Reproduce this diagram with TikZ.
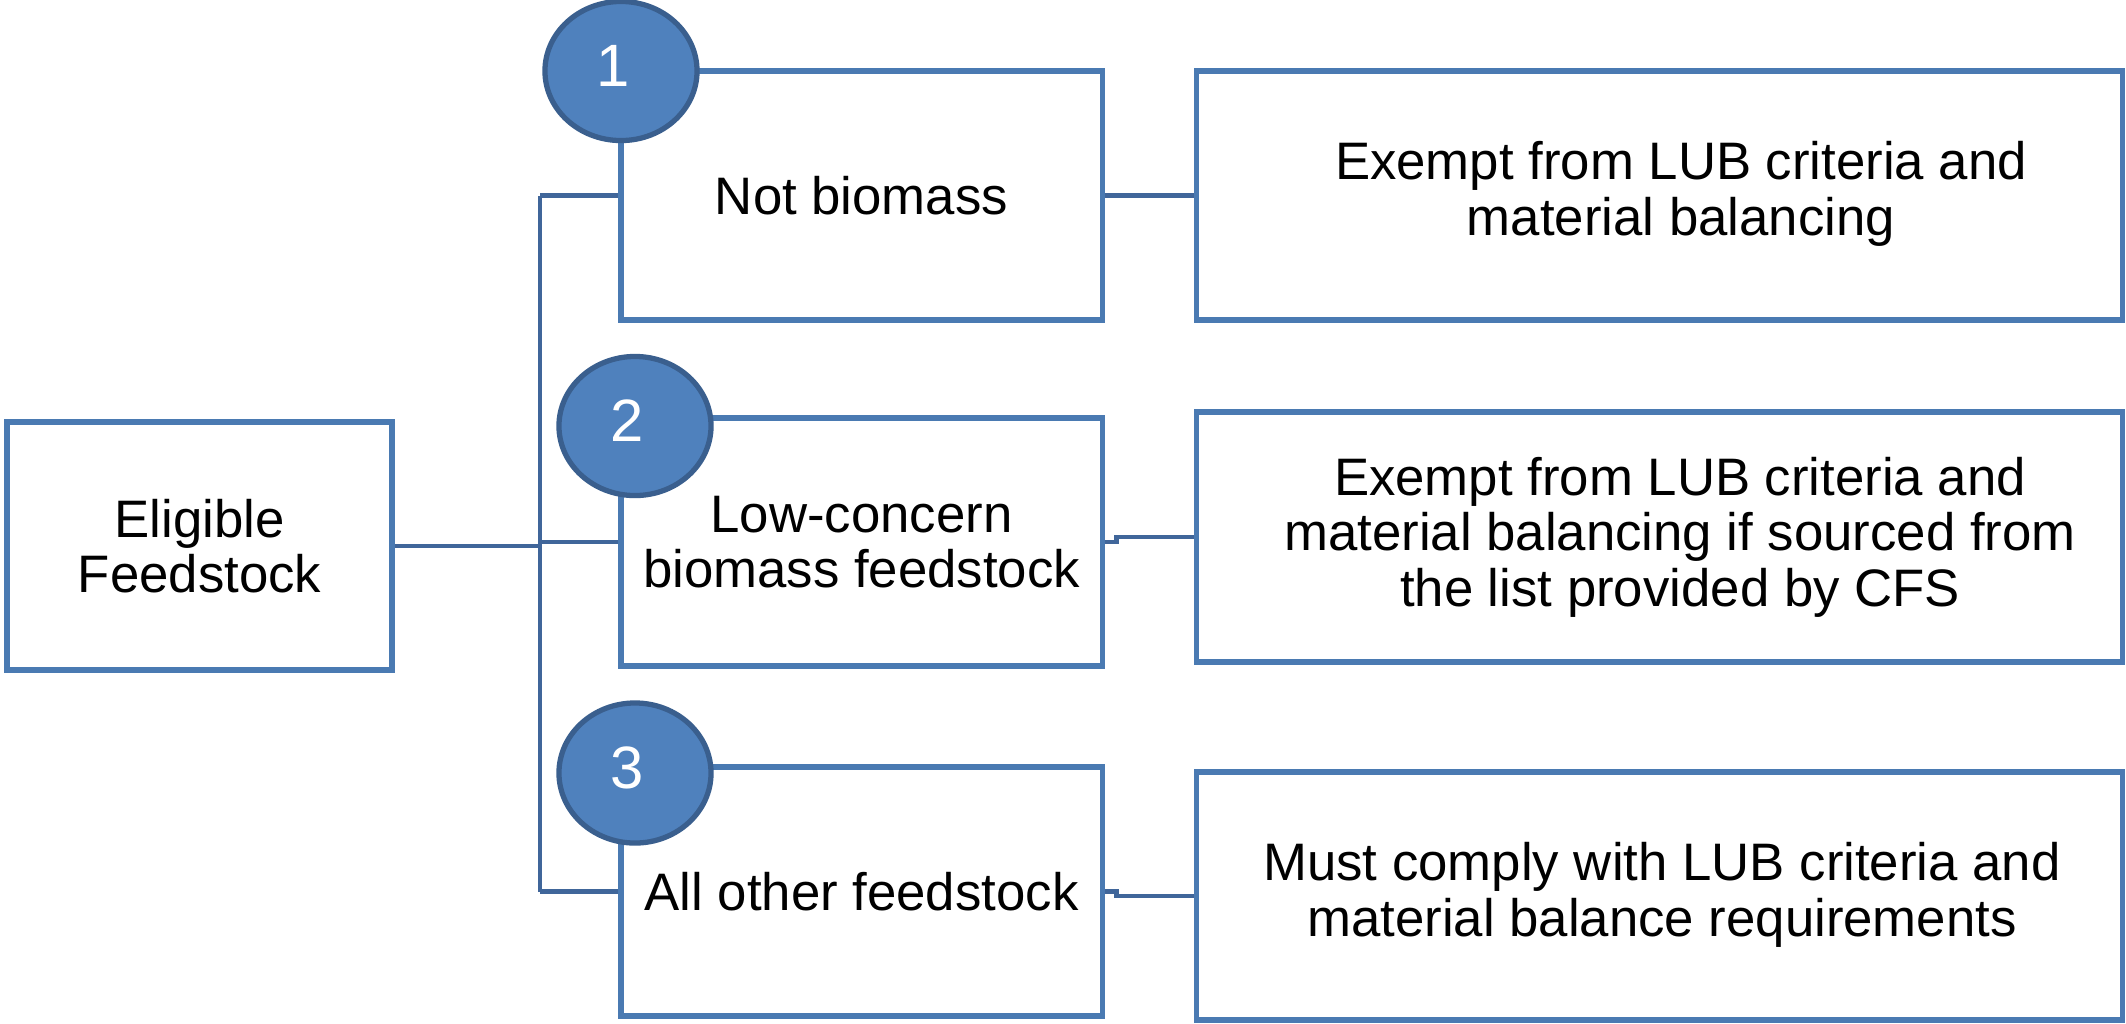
\documentclass[tikz,border=0pt]{standalone}
\usepackage{fontspec}
\setmainfont{Liberation Sans}
\usetikzlibrary{shapes.geometric}
\definecolor{boxblue}{RGB}{74,122,178}
\definecolor{linkblue}{RGB}{64,102,154}
\definecolor{discfill}{RGB}{79,129,189}
\definecolor{discline}{RGB}{58,95,142}
\tikzset{
  boxnode/.style={draw=boxblue, line width=1.5pt, fill=white, rectangle, inner sep=0pt,
    align=center, font=\fontsize{15}{15.8}\selectfont},
  link/.style={draw=linkblue, line width=1.4pt},
  disc/.style={ellipse, draw=discline, fill=discfill, line width=1.5pt, inner sep=0pt},
  numtext/.style={text=white, font=\fontsize{17}{17}\selectfont}
}
\begin{document}
\begin{tikzpicture}[x=0.01cm,y=-0.01cm]
\useasboundingbox (0,0) rectangle (2126,1023);
% left box
\node[boxnode, minimum width=3.85cm, minimum height=2.48cm] (elig) at (199.5,546) {Eligible\\Feedstock};
% middle boxes
\node[boxnode, minimum width=4.81cm, minimum height=2.49cm] (b1) at (861.5,195.5) {Not biomass};
\node[boxnode, minimum width=4.81cm, minimum height=2.48cm] (b2) at (861.5,542) {Low-concern\\biomass feedstock};
\node[boxnode, minimum width=4.81cm, minimum height=2.49cm] (b3) at (861.5,891.5) {All other feedstock};
% right boxes
\node[boxnode, minimum width=9.25cm, minimum height=2.49cm] (r1) at (1659.5,195.5) {};
\node[boxnode, minimum width=9.25cm, minimum height=2.50cm] (r2) at (1659.5,537) {};
\node[boxnode, minimum width=9.25cm, minimum height=2.48cm] (r3) at (1659.5,896) {};
\node[align=center, font=\fontsize{15}{15.8}\selectfont] (t1) at (1681,194) {Exempt from LUB criteria and\\material balancing};
\node[align=center, font=\fontsize{15}{15.8}\selectfont] (t2) at (1680,537) {Exempt from LUB criteria and\\material balancing if sourced from\\the list provided by CFS};
\node[align=center, font=\fontsize{15}{15.8}\selectfont] (t3) at (1662,895) {Must comply with LUB criteria and\\material balance requirements};
% connectors
\coordinate (trunk) at (540,546);
\coordinate (ttop) at (540,195.5);
\coordinate (tbot) at (540,891.5);
\draw[link] (elig.east) -- (trunk);
\draw[link] (ttop) -- (tbot);
\draw[link] (ttop) -- (b1.west);
\draw[link] (540,542) -- (b2.west);
\draw[link] (tbot) -- (b3.west);
\draw[link] (b1.east) -- (r1.west);
\draw[link] (b2.east) -- ++(12,0) |- (r2.west);
\draw[link] (b3.east) -- ++(12,0) |- (r3.west);
% number discs
\node[disc, minimum width=1.52cm, minimum height=1.39cm] (c1) at (621,71) {};
\node[disc, minimum width=1.52cm, minimum height=1.39cm] (c2) at (635,426) {};
\node[disc, minimum width=1.52cm, minimum height=1.40cm] (c3) at (635,773) {};
\node[numtext, xshift=-2.3pt, yshift=1.4pt] (n1) at (c1) {1};
\node[numtext, xshift=-2.3pt, yshift=1.4pt] (n2) at (c2) {2};
\node[numtext, xshift=-2.3pt, yshift=1.4pt] (n3) at (c3) {3};
\end{tikzpicture}
\end{document}
